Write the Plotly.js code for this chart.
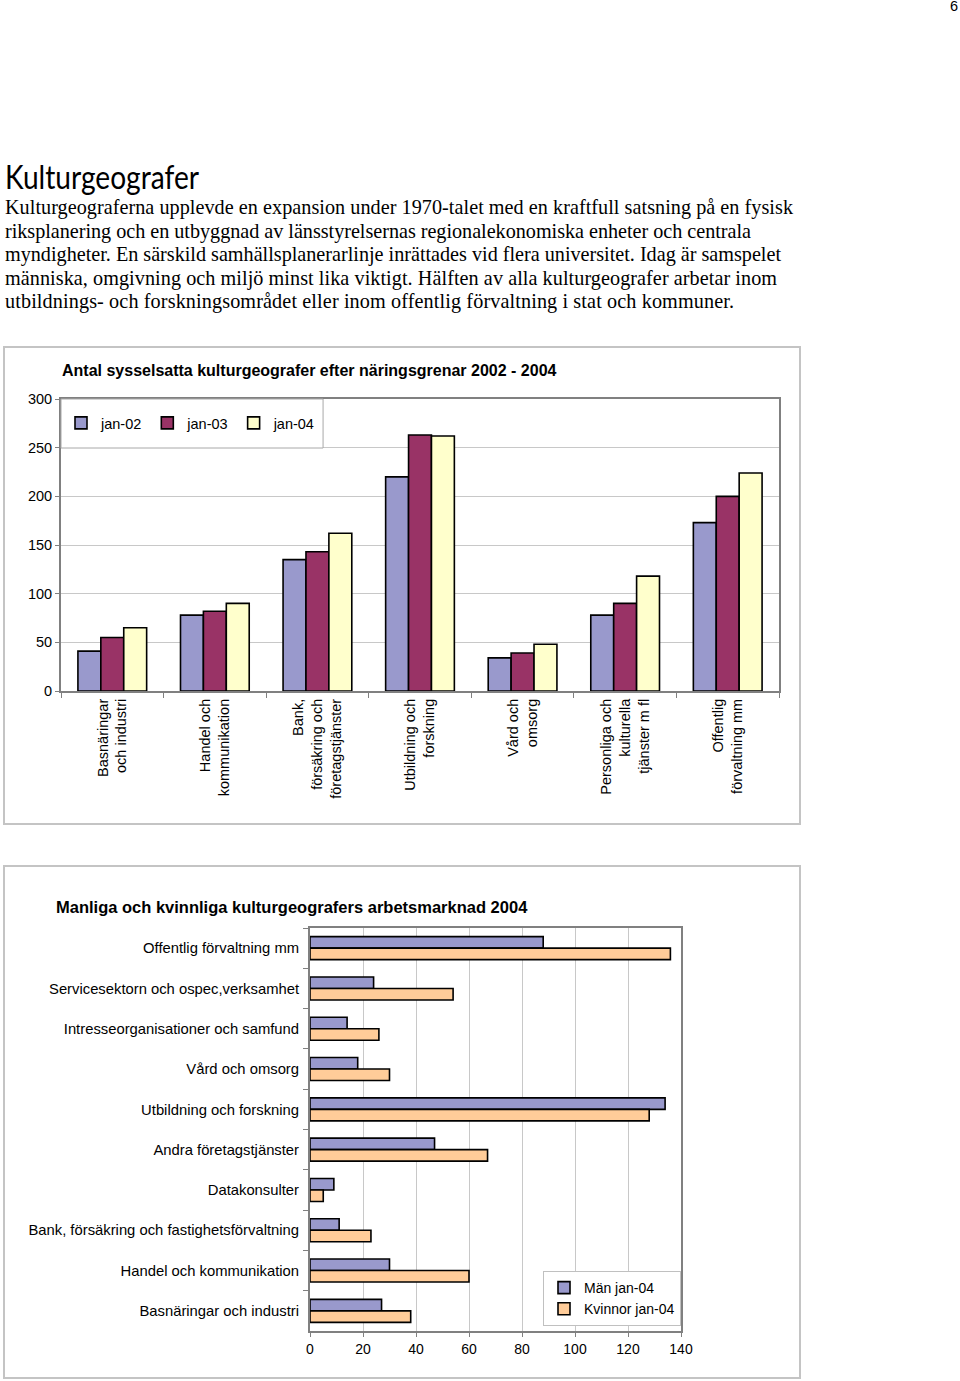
<!DOCTYPE html>
<html>
<head>
<meta charset="utf-8">
<script src="https://cdn.plot.ly/plotly-3.0.1.min.js"></script>
<style>
  html, body { margin:0; padding:0; background:#fff; }
  body { width:960px; height:1381px; position:relative; overflow:hidden; }
  #pnum { position:absolute; left:950px; top:-2px; font:14.5px "Liberation Sans", Arial, sans-serif; color:#000; }
  #heading { position:absolute; left:5px; top:157px; font:32px Lato, "Open Sans", sans-serif; color:#000; white-space:nowrap; transform-origin:0 0; }
  #bodytext { position:absolute; left:5px; top:196px; font:20.2px/23.6px "Liberation Serif", serif; color:#000; white-space:nowrap; }
  #bodytext span { display:block; }
  .frame { position:absolute; border:2px solid #c4c4c4; box-sizing:border-box; }
  .chart { position:absolute; }
</style>
</head>
<body>
<div id="pnum">6</div>
<div id="heading">Kulturgeografer</div>
<div id="bodytext"><span data-w="788">Kulturgeograferna upplevde en expansion under 1970-talet med en kraftfull satsning på en fysisk</span><span data-w="746">riksplanering och en utbyggnad av länsstyrelsernas regionalekonomiska enheter och centrala</span><span data-w="776">myndigheter. En särskild samhällsplanerarlinje inrättades vid flera universitet. Idag är samspelet</span><span data-w="772">människa, omgivning och miljö minst lika viktigt. Hälften av alla kulturgeografer arbetar inom</span><span data-w="729">utbildnings- och forskningsområdet eller inom offentlig förvaltning i stat och kommuner.</span></div>

<div class="frame" style="left:3px;top:346px;width:798px;height:479px;"></div>
<div class="frame" style="left:3px;top:865px;width:798px;height:514px;"></div>
<div id="chart1" class="chart" style="left:3px;top:346px;width:798px;height:479px;"></div>
<div id="chart2" class="chart" style="left:3px;top:865px;width:798px;height:514px;"></div>

<script>
// ---------- Chart 1 data ----------
const sectors2002_2004 = [
  "Basnäringar<br>och industri",
  "Handel och<br>kommunikation",
  "Bank,<br>försäkring och<br>företagstjänster",
  "Utbildning och<br>forskning",
  "Vård och<br>omsorg",
  "Personliga och<br>kulturella<br>tjänster m fl",
  "Offentlig<br>förvaltning mm"
];
const jan02 = [41, 78, 135, 220, 34, 78, 173];
const jan03 = [55, 82, 143, 263, 39, 90, 200];
const jan04 = [65, 90, 162, 262, 48, 118, 224];
const yTicks1 = [0, 50, 100, 150, 200, 250, 300];

// ---------- Chart 2 data ----------
const sectors2004 = [
  "Offentlig förvaltning mm",
  "Servicesektorn och ospec,verksamhet",
  "Intresseorganisationer och samfund",
  "Vård och omsorg",
  "Utbildning och forskning",
  "Andra företagstjänster",
  "Datakonsulter",
  "Bank, försäkring och fastighetsförvaltning",
  "Handel och kommunikation",
  "Basnäringar och industri"
];
const manJan04 = [88, 24, 14, 18, 134, 47, 9, 11, 30, 27];
const kvinnorJan04 = [136, 54, 26, 30, 128, 67, 5, 23, 60, 38];
const xTicks2 = [0, 20, 40, 60, 80, 100, 120, 140];

// ---------- page text fitting (match line widths of the printed page) ----------
(function fitText(){
  document.querySelectorAll('#bodytext span').forEach(function(s){
    const target = parseFloat(s.getAttribute('data-w'));
    const w = s.scrollWidth ? s.getBoundingClientRect().width : 0;
    const range = document.createRange(); range.selectNodeContents(s);
    const tw = range.getBoundingClientRect().width;
    const n = s.textContent.length;
    if (tw > 0 && n > 1) s.style.letterSpacing = ((target - tw) / (n - 1)) + 'px';
  });
  const h = document.getElementById('heading');
  const r = document.createRange(); r.selectNodeContents(h);
  const hw = r.getBoundingClientRect().width;
  if (hw > 0) h.style.transform = 'scaleX(' + (194 / hw) + ')';
})();

const FONT = '"Liberation Sans", Arial, sans-serif';
const barLine = { color: '#000', width: 1.6 };

// ---------- Chart 1 ----------
const traces1 = [
  { type:'bar', name:'jan-02', x:sectors2002_2004, y:jan02, marker:{color:'#9999cc', line:barLine} },
  { type:'bar', name:'jan-03', x:sectors2002_2004, y:jan03, marker:{color:'#993366', line:barLine} },
  { type:'bar', name:'jan-04', x:sectors2002_2004, y:jan04, marker:{color:'#ffffcc', line:barLine} }
];
const layout1 = {
  width:798, height:479,
  margin:{l:58, r:22, t:53, b:134, pad:0},
  paper_bgcolor:'rgba(0,0,0,0)', plot_bgcolor:'#fff',
  font:{family:FONT, size:14, color:'#000'},
  title:{text:'<b>Antal sysselsatta kulturgeografer efter näringsgrenar 2002 - 2004</b>',
         font:{family:FONT, size:16, color:'#000'},
         x:59/798, xref:'container', xanchor:'left', y:1-24/479, yref:'container', yanchor:'middle'},
  barmode:'group', bargap:0.33, bargroupgap:0,
  showlegend:true,
  legend:{orientation:'h', x:0.0, xref:'paper', xanchor:'left', y:1-24/292, yanchor:'middle',
          bgcolor:'rgba(0,0,0,0)', borderwidth:0, font:{family:FONT, size:14.5, color:'#000'},
          itemwidth:30, traceorder:'normal'},
  shapes:[{type:'rect', xref:'x domain', yref:'y domain', x0:0, x1:0.365, y0:1-49/292, y1:1,
           fillcolor:'#fff', line:{color:'#a8a8a8', width:1}, layer:'above'}],
  xaxis:{type:'category', tickson:'boundaries', ticks:'outside', ticklen:5, tickcolor:'#808080',
         tickangle:-90, tickfont:{family:FONT, size:14.5, color:'#000'},
         showline:true, linecolor:'#808080', linewidth:2, mirror:true, showgrid:false, fixedrange:true},
  yaxis:{range:[0,300], tickvals:yTicks1, ticks:'outside', ticklen:4, tickcolor:'#808080',
         tickfont:{family:FONT, size:14.5, color:'#000'},
         showline:true, linecolor:'#808080', linewidth:2, mirror:true,
         showgrid:true, gridcolor:'#c8c8c8', gridwidth:1, zeroline:false, fixedrange:true}
};
Plotly.newPlot('chart1', traces1, layout1, {staticPlot:true, displayModeBar:false});

// ---------- Chart 2 ----------
const traces2 = [
  { type:'bar', orientation:'h', name:'Män jan-04', y:sectors2004, x:manJan04, marker:{color:'#9999cc', line:barLine} },
  { type:'bar', orientation:'h', name:'Kvinnor jan-04', y:sectors2004, x:kvinnorJan04, marker:{color:'#ffcc99', line:barLine} }
];
const layout2 = {
  width:798, height:514,
  margin:{l:307, r:120, t:63, b:48, pad:0},
  paper_bgcolor:'rgba(0,0,0,0)', plot_bgcolor:'#fff',
  font:{family:FONT, size:14, color:'#000'},
  title:{text:'<b>Manliga och kvinnliga kulturgeografers arbetsmarknad 2004</b>',
         font:{family:FONT, size:16.5, color:'#000'},
         x:53/798, xref:'container', xanchor:'left', y:1-42/514, yref:'container', yanchor:'middle'},
  barmode:'group', bargap:0.43, bargroupgap:0,
  showlegend:true,
  legend:{orientation:'v', x:1, xanchor:'right', y:(1331-1271)/403, yanchor:'top',
          bgcolor:'#fff', bordercolor:'#c0c0c0', borderwidth:1,
          font:{family:FONT, size:14, color:'#000'}, itemwidth:30, traceorder:'normal'},
  xaxis:{range:[0,140], tickvals:xTicks2, ticks:'outside', ticklen:4, tickcolor:'#808080',
         tickfont:{family:FONT, size:14, color:'#000'},
         showline:true, linecolor:'#808080', linewidth:2, mirror:true,
         showgrid:true, gridcolor:'#c8c8c8', gridwidth:1, zeroline:false, fixedrange:true},
  yaxis:{type:'category', autorange:'reversed', tickson:'boundaries', ticks:'outside', ticklen:5, tickcolor:'#808080',
         ticklabelstandoff:6,
         tickfont:{family:FONT, size:14.8, color:'#000'},
         showline:true, linecolor:'#808080', linewidth:2, mirror:true, showgrid:false, fixedrange:true}
};
Plotly.newPlot('chart2', traces2, layout2, {staticPlot:true, displayModeBar:false});
</script>
</body>
</html>
